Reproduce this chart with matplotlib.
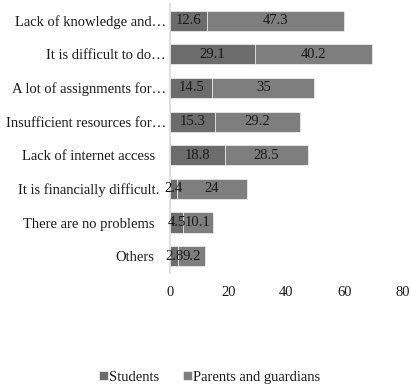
import matplotlib
matplotlib.use('Agg')
import matplotlib.pyplot as plt
import matplotlib.transforms as mtransforms
import numpy as np

plt.rcParams['font.family'] = ['Liberation Serif', 'DejaVu Serif']

categories = [
    "Lack of knowledge and\u2026",
    "It is difficult to do\u2026",
    "A lot of assignments for\u2026",
    "Insufficient resources for\u2026",
    "Lack of internet access",
    "It is financially difficult.",
    "There are no problems",
    "Others",
]
students = [12.6, 29.1, 14.5, 15.3, 18.8, 2.4, 4.5, 2.8]
parents = [47.3, 40.2, 35, 29.2, 28.5, 24, 10.1, 9.2]
xticks = [0, 20, 40, 60, 80]

student_color = '#6c6c6c'
parent_color = '#7e7e7e'
text_color = '#1a1a1a'

fig = plt.figure(figsize=(4.11, 3.84), dpi=100)
ax = fig.add_axes([0.4136, 0.289, 0.5669, 0.701])

y = np.arange(len(categories))
b1 = ax.barh(y, students, height=0.6, color=student_color,
             edgecolor='white', linewidth=0.4, label='Students')
b2 = ax.barh(y, parents, left=students, height=0.6, color=parent_color,
             edgecolor='white', linewidth=0.4, label='Parents and guardians')

for bars in (b1, b2):
    for bar in bars:
        w = bar.get_width()
        cx = bar.get_x() + w / 2
        cy = bar.get_y() + bar.get_height() / 2
        ax.text(cx, cy, f"{w:g}", ha='center', va='center',
                fontsize=10.5, color=text_color)

ax.set_xlim(0, 80)
ax.set_ylim(len(categories) - 0.5, -0.5)
ax.set_yticks(y)
ax.set_yticklabels(categories, fontsize=10.5, color=text_color)
ax.set_xticks(xticks)
ax.set_xticklabels([str(t) for t in xticks], fontsize=10.5, color=text_color)
ax.tick_params(axis='both', length=0)
ax.tick_params(axis='y', pad=11)
ax.tick_params(axis='x', pad=9)

# truncated labels run closer to the axis
for lab in ax.get_yticklabels():
    txt = lab.get_text()
    if txt.endswith('\u2026'):
        shift = 8
    elif txt.endswith('.'):
        shift = 3
    else:
        continue
    lab.set_transform(lab.get_transform() +
                      mtransforms.ScaledTranslation(shift / 72, 0, fig.dpi_scale_trans))

for side in ('top', 'right', 'bottom'):
    ax.spines[side].set_visible(False)
ax.spines['left'].set_color('#d9d9d9')
ax.spines['left'].set_linewidth(1.2)

fig.legend(handles=[b1, b2], loc='center', bbox_to_anchor=(0.51, 0.018),
           ncol=2, frameon=False, fontsize=10.5, handlelength=0.6,
           handleheight=0.6, handletextpad=0.1, columnspacing=1.6,
           labelcolor=text_color)

fig.savefig('out.png', dpi=100)
